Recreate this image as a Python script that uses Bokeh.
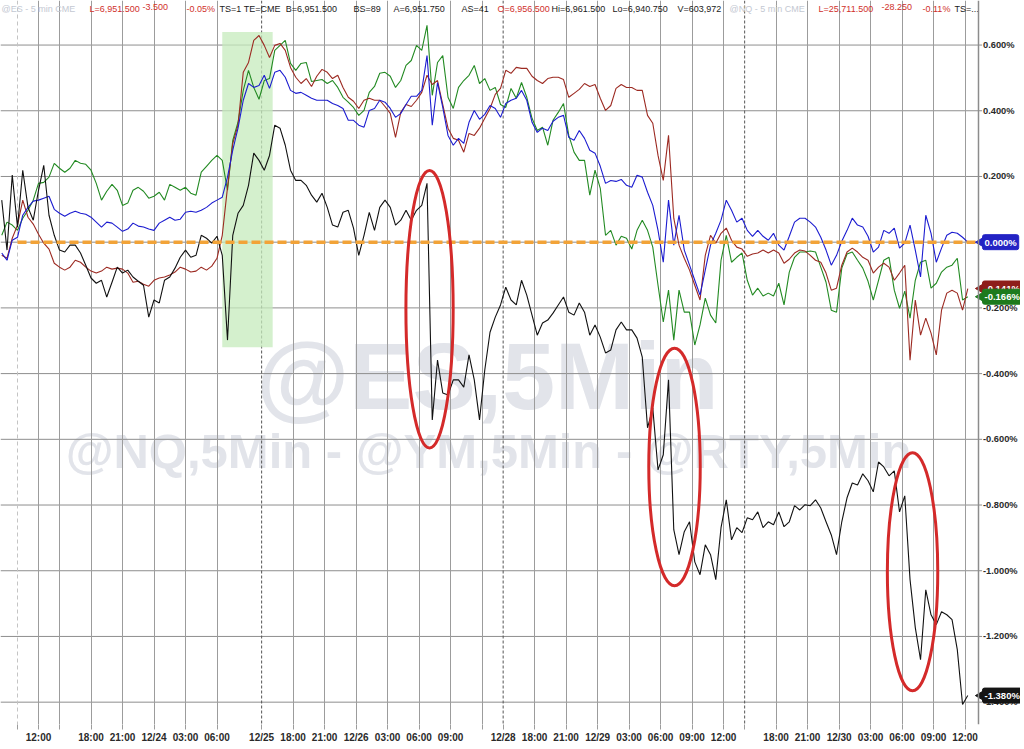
import numpy as np
from bokeh.plotting import figure
from bokeh.models import FixedTicker, Span, BoxAnnotation, Label, Range1d
from bokeh.embed import file_html
from bokeh.resources import INLINE
from bokeh.core.properties import value

# ---------------- data ----------------
# x: trading hours since 12/23 10:00 (session gaps removed), one reading every 30 minutes
hours = np.arange(-1.5, 90.75, 0.5)

# % change since the comparison start
es_blue = [
    -0.033, -0.055, 0.006, 0.015, 0.082, 0.106, 0.125, 0.128, 0.134, 0.140,
    0.100, 0.088, 0.079, 0.088, 0.094, 0.088, 0.085, 0.076, 0.061, 0.046,
    0.061, 0.058, 0.046, 0.033, 0.040, 0.058, 0.049, 0.046, 0.040, 0.036,
    0.058, 0.067, 0.076, 0.067, 0.070, 0.091, 0.094, 0.091, 0.097, 0.106,
    0.119, 0.128, 0.137, 0.198, 0.280, 0.347, 0.432, 0.483, 0.471, 0.477,
    0.508, 0.468, 0.517, 0.523, 0.502, 0.462, 0.453, 0.456, 0.447, 0.438,
    0.432, 0.432, 0.432, 0.422, 0.416, 0.407, 0.371, 0.371, 0.356, 0.350,
    0.401, 0.407, 0.432, 0.426, 0.407, 0.380, 0.392, 0.419, 0.444, 0.444,
    0.462, 0.568, 0.356, 0.486, 0.410, 0.325, 0.295, 0.316, 0.301, 0.365,
    0.401, 0.374, 0.389, 0.416, 0.407, 0.380, 0.422, 0.432, 0.438, 0.462,
    0.432, 0.365, 0.334, 0.347, 0.340, 0.368, 0.380, 0.386, 0.319, 0.310,
    0.340, 0.316, 0.280, 0.271, 0.231, 0.179, 0.188, 0.185, 0.191, 0.173,
    0.167, 0.204, 0.198, 0.152, 0.112, 0.036, -0.061, 0.128, -0.009, 0.082,
    -0.024, -0.070, -0.116, -0.161, -0.085, -0.009, 0.027, 0.067, 0.128, 0.097,
    0.061, 0.073, 0.036, 0.018, 0.036, 0.018, 0.006, 0.027, -0.009, -0.024,
    0.018, 0.061, 0.073, 0.073, 0.061, 0.046, 0.015, -0.024, -0.070, -0.040,
    0.003, 0.036, 0.073, 0.052, 0.046, 0.018, -0.030, -0.015, 0.036, 0.027,
    0.043, -0.018, -0.003, 0.052, -0.024, -0.106, 0.082, 0.027, -0.061, -0.018,
    0.021, 0.030, 0.027, 0.015, 0.000,
]
nq_red = [
    -0.040, -0.049, 0.012, 0.052, 0.128, 0.076, 0.055, 0.024, -0.003, -0.021,
    -0.064, -0.076, -0.085, -0.076, -0.055, -0.061, -0.076, -0.088, -0.094, -0.088,
    -0.076, -0.082, -0.079, -0.082, -0.094, -0.122, -0.119, -0.128, -0.134, -0.116,
    -0.109, -0.106, -0.100, -0.091, -0.076, -0.082, -0.091, -0.088, -0.076, -0.085,
    -0.073, -0.049, 0.021, 0.167, 0.301, 0.356, 0.517, 0.547, 0.614, 0.629,
    0.599, 0.562, 0.599, 0.605, 0.584, 0.532, 0.502, 0.483, 0.498, 0.474,
    0.505, 0.526, 0.517, 0.498, 0.508, 0.471, 0.441, 0.429, 0.407, 0.432,
    0.438, 0.432, 0.432, 0.413, 0.392, 0.319, 0.395, 0.419, 0.413, 0.432,
    0.456, 0.508, 0.480, 0.492, 0.419, 0.347, 0.316, 0.310, 0.274, 0.331,
    0.325, 0.347, 0.377, 0.407, 0.450, 0.468, 0.523, 0.514, 0.532, 0.529,
    0.529, 0.505, 0.492, 0.483, 0.498, 0.502, 0.502, 0.495, 0.441, 0.453,
    0.465, 0.483, 0.474, 0.480, 0.438, 0.401, 0.416, 0.468, 0.480, 0.471,
    0.471, 0.462, 0.462, 0.386, 0.362, 0.264, 0.188, 0.325, 0.073, -0.009,
    -0.049, -0.085, -0.131, -0.176, -0.040, 0.021, -0.003, 0.027, 0.043, 0.006,
    -0.015, -0.021, -0.043, -0.036, -0.033, -0.024, -0.033, -0.024, -0.033, -0.064,
    -0.052, -0.033, -0.024, -0.027, -0.040, -0.055, -0.061, -0.094, -0.146, -0.140,
    -0.070, -0.030, -0.018, -0.030, -0.046, -0.055, -0.094, -0.076, -0.064, -0.076,
    -0.116, -0.094, -0.070, -0.359, -0.176, -0.283, -0.231, -0.277, -0.343, -0.207,
    -0.155, -0.146, -0.155, -0.207, -0.141,
]
ym_green = [
    0.021, 0.061, 0.052, 0.036, 0.073, 0.097, 0.128, 0.179, 0.182, 0.198,
    0.240, 0.225, 0.213, 0.225, 0.249, 0.240, 0.237, 0.219, 0.179, 0.128,
    0.155, 0.176, 0.158, 0.112, 0.119, 0.158, 0.167, 0.155, 0.134, 0.140,
    0.152, 0.128, 0.176, 0.167, 0.158, 0.167, 0.149, 0.143, 0.213, 0.231,
    0.249, 0.264, 0.249, 0.158, 0.310, 0.365, 0.462, 0.523, 0.471, 0.435,
    0.492, 0.498, 0.584, 0.599, 0.614, 0.544, 0.523, 0.544, 0.547, 0.489,
    0.492, 0.495, 0.483, 0.492, 0.471, 0.441, 0.426, 0.410, 0.386, 0.401,
    0.456, 0.474, 0.514, 0.517, 0.505, 0.471, 0.492, 0.538, 0.553, 0.599,
    0.584, 0.660, 0.447, 0.547, 0.568, 0.441, 0.407, 0.471, 0.492, 0.508,
    0.538, 0.483, 0.498, 0.462, 0.471, 0.419, 0.410, 0.468, 0.438, 0.486,
    0.441, 0.377, 0.340, 0.350, 0.295, 0.371, 0.395, 0.422, 0.325, 0.274,
    0.249, 0.249, 0.143, 0.219, 0.164, 0.021, 0.036, -0.009, 0.018, 0.012,
    -0.021, 0.036, 0.067, 0.036, -0.015, -0.131, -0.243, -0.146, -0.298, -0.146,
    -0.213, -0.213, -0.313, -0.252, -0.170, -0.222, -0.246, -0.055, 0.021, -0.061,
    -0.046, -0.033, -0.116, -0.161, -0.140, -0.164, -0.155, -0.164, -0.125, -0.191,
    -0.091, -0.046, -0.030, -0.030, -0.027, -0.030, -0.076, -0.122, -0.207, -0.213,
    -0.079, -0.036, -0.030, -0.055, -0.079, -0.119, -0.176, -0.116, -0.055, -0.046,
    -0.146, -0.201, -0.149, -0.231, -0.116, -0.061, -0.055, -0.140, -0.125, -0.091,
    -0.076, -0.070, -0.049, -0.176, -0.166,
]
rty_black = [
    0.128, -0.024, 0.204, 0.046, 0.219, 0.106, 0.067, 0.158, 0.234, 0.082,
    0.021, -0.024, -0.030, -0.009, -0.009, -0.033, -0.070, -0.109, -0.125, -0.116,
    -0.167, -0.122, -0.076, -0.094, -0.085, -0.106, -0.119, -0.131, -0.228, -0.176,
    -0.185, -0.116, -0.106, -0.079, -0.046, -0.024, -0.046, -0.040, 0.021, 0.012,
    -0.003, 0.018, -0.040, -0.298, 0.021, 0.088, 0.112, 0.173, 0.271, 0.249,
    0.219, 0.264, 0.356, 0.347, 0.295, 0.219, 0.188, 0.188, 0.173, 0.143,
    0.122, 0.149, 0.106, 0.052, 0.046, 0.091, 0.097, 0.043, -0.040, 0.021,
    0.091, 0.036, 0.106, 0.128, 0.106, 0.052, 0.067, 0.097, 0.067, 0.097,
    0.112, 0.179, -0.541, -0.359, -0.459, -0.465, -0.419, -0.419, -0.441, -0.343,
    -0.419, -0.541, -0.389, -0.274, -0.228, -0.191, -0.137, -0.176, -0.191, -0.116,
    -0.161, -0.222, -0.283, -0.246, -0.237, -0.216, -0.191, -0.167, -0.213, -0.222,
    -0.185, -0.213, -0.283, -0.252, -0.289, -0.337, -0.328, -0.267, -0.243, -0.267,
    -0.267, -0.292, -0.350, -0.565, -0.505, -0.693, -0.647, -0.419, -0.875, -0.951,
    -0.881, -0.851, -0.973, -1.012, -0.921, -0.951, -1.027, -0.869, -0.784, -0.906,
    -0.869, -0.884, -0.839, -0.845, -0.821, -0.869, -0.851, -0.860, -0.821, -0.866,
    -0.851, -0.802, -0.815, -0.799, -0.802, -0.784, -0.809, -0.851, -0.891, -0.951,
    -0.851, -0.778, -0.733, -0.739, -0.705, -0.726, -0.760, -0.669, -0.684, -0.711,
    -0.696, -0.821, -0.772, -1.027, -1.173, -1.271, -1.058, -1.134, -1.164, -1.125,
    -1.134, -1.149, -1.240, -1.407, -1.380,
]
for s in (es_blue, nq_red, ym_green, rty_black):
    assert len(s) == len(hours), len(s)

# x-axis ticks (trading hours) and their labels
x_tick_hours = [0, 2, 4, 7, 10, 13, 16, 19, 23.25, 26.25, 29.25, 32.25, 35.25, 38.25,
                41.25, 44.25, 46.25, 49.25, 52.25, 55.25, 58.25, 61.25, 64.25, 67.25,
                69.25, 72.25, 75.25, 78.25, 81.25, 84.25, 87.25, 90.25]
x_tick_labels = ["", "12:00", "", "18:00", "21:00", "12/24", "03:00", "06:00", "12/25",
                 "18:00", "21:00", "12/26", "03:00", "06:00", "09:00", "", "12/28",
                 "18:00", "21:00", "12/29", "03:00", "06:00", "09:00", "12:00", "",
                 "18:00", "21:00", "12/30", "03:00", "06:00", "09:00", "12:00"]
comparison_start = [0]
session_breaks = [23.25, 46.25, 69.25]
y_ticks = [-1.4, -1.2, -1.0, -0.8, -0.6, -0.4, -0.2, 0.0, 0.2, 0.4, 0.6]

# last-value badges
badge_values = [0.0, -0.141, -0.166, -1.380]
badge_texts = ["0.000%", "-0.141%", "-0.166%", "-1.380%"]
badge_colors = ["#2323c4", "#8e1d1a", "#1d7a1d", "#151515"]

# highlighted session (hours, %)
band_left, band_right, band_bottom, band_top = 19.5, 24.3, -0.32, 0.64

# red ellipses marking the three drops (center hour, center %, width h, height %)
ell_x = [39.24, 62.57, 85.24]
ell_y = [-0.204, -0.684, -1.003]
ell_w = [4.5, 4.9, 4.8]
ell_h = [0.845, 0.723, 0.726]

header_texts = ["@ES - 5 min  CME", "L=6,951.500", "-3.500", "-0.05%", "TS=1", "TE=CME",
                "B=6,951.500", "BS=89", "A=6,951.750", "AS=41", "O=6,956.500",
                "Hi=6,961.500", "Lo=6,940.750", "V=603,972", "@NQ - 5 min  CME",
                "L=25,711.500", "-28.250", "-0.11%", "TS=..."]
header_colors = ["#c3c8d2", "#d0302b", "#d0302b", "#d0302b", "#1a1a1a", "#1a1a1a",
                 "#1a1a1a", "#1a1a1a", "#1a1a1a", "#1a1a1a", "#d0302b",
                 "#1a1a1a", "#1a1a1a", "#1a1a1a", "#c3c8d2",
                 "#d0302b", "#d0302b", "#d0302b", "#1a1a1a"]
header_hours = [-1.52, 6.86, 11.9, 16.1, 19.24, 21.55, 25.55, 32.0, 35.81, 42.29, 45.71,
                50.86, 56.67, 62.86, 67.81, 76.29, 82.29, 86.19, 89.24]

FONT = "Liberation Sans"
X0, X1 = -1.619, 95.52          # plot frame in trading hours
Y0, Y1 = -1.468, 0.7356         # plot frame in %
AXIS_AT = 91.52                 # position of the price scale line
TICK_END = 91.86
LABEL_AT = 91.95

p = figure(width=1020, height=745, output_backend="svg", toolbar_location=None,
           x_range=Range1d(X0, X1), y_range=Range1d(Y0, Y1),
           y_axis_location=None, min_border_left=0, min_border_top=0,
           min_border_right=0, min_border_bottom=20,
           background_fill_color="white", border_fill_color="white")
p.outline_line_color = None

# watermark
p.text(x=[44.76], y=[-0.407], text=["@ES,5Min"], text_font=value(FONT),
       text_font_size="95px", text_font_style="bold", text_color="#e2e4ea",
       text_align="center", text_baseline="alphabetic", level="image")
p.text(x=[44.86], y=[-0.635], text=["@NQ,5Min - @YM,5Min - @RTY,5Min"], text_font=value(FONT),
       text_font_size="49px", text_font_style="bold", text_color="#e2e4ea",
       text_align="center", text_baseline="alphabetic", level="image")

# grids
solid_grid = [t for t in x_tick_hours if t not in session_breaks and t not in comparison_start]
p.xgrid.ticker = FixedTicker(ticks=solid_grid)
p.xgrid.grid_line_color = "#9c9c9c"
p.xgrid.grid_line_width = 1
p.ygrid.grid_line_color = None
p.segment(x0=[X0] * len(y_ticks), x1=[TICK_END] * len(y_ticks), y0=y_ticks, y1=y_ticks,
          line_color="#8e8e8e", line_width=1, level="underlay")
for t in session_breaks:
    p.add_layout(Span(location=t, dimension="height", line_color="#555555",
                      line_dash="3 2", line_width=1, level="underlay"))
for t in comparison_start:
    p.add_layout(Span(location=t, dimension="height", line_color="#c4c4c4",
                      line_dash="4 3", line_width=1, level="underlay"))

p.add_layout(BoxAnnotation(left=band_left, right=band_right, bottom=band_bottom, top=band_top,
                           fill_color="#c6ebbc", fill_alpha=0.75, line_color=None,
                           level="underlay"))

# series
p.line(hours, ym_green, line_color="#228a22", line_width=1.1)
p.line(hours, nq_red, line_color="#9c2a22", line_width=1.1)
p.line(hours, es_blue, line_color="#1c1cd0", line_width=1.1)
p.line(hours, rty_black, line_color="#111111", line_width=1.1)

# zero reference line from the comparison start to the price scale
p.segment(x0=comparison_start, x1=[AXIS_AT], y0=[0], y1=[0], line_color="#f2a338",
          line_width=3.5, line_dash="9 4")

p.ellipse(x=ell_x, y=ell_y, width=ell_w, height=ell_h, fill_color=None,
          line_color="#d42a2a", line_width=3)

# price scale on the right
p.add_layout(Span(location=AXIS_AT, dimension="height", line_color="#8c8c8c", line_width=1.5))
p.text(x=[LABEL_AT] * len(y_ticks), y=y_ticks, text=[f"{v:.3f}%" for v in y_ticks],
       text_font=value(FONT), text_font_size="9.3px", text_font_style="bold",
       text_color="#2a2a2a", text_align="left", text_baseline="middle")

# time axis
p.xaxis.ticker = FixedTicker(ticks=x_tick_hours)
p.xaxis.major_label_overrides = {t: lab for t, lab in zip(x_tick_hours, x_tick_labels)}
p.xaxis.axis_line_color = None
p.xaxis.major_tick_line_color = "#9c9c9c"
p.xaxis.major_tick_out = 5
p.xaxis.major_tick_in = 0
p.xaxis.minor_tick_line_color = None
p.xaxis.major_label_standoff = 2
p.xaxis.major_label_text_font = FONT
p.xaxis.major_label_text_font_size = "10px"
p.xaxis.major_label_text_font_style = "bold"
p.xaxis.major_label_text_color = "#2a2a2a"

# last-value badges
p.scatter(x=[AXIS_AT + 0.2] * len(badge_values), y=badge_values, marker="triangle",
          angle=np.pi / 2, size=9, fill_color=badge_colors, line_color=badge_colors)
for v, t, c in zip(badge_values, badge_texts, badge_colors):
    p.add_layout(Label(x=LABEL_AT - 0.05, y=v, text=t, text_color="white",
                       text_font=FONT, text_font_size="9.5px", text_font_style="bold",
                       text_baseline="middle", text_align="left",
                       background_fill_color=c, border_line_color=c,
                       padding=2, border_radius=2))

# header line
p.text(x=header_hours, y=[Y1] * len(header_hours), text=header_texts,
       text_color=header_colors, text_font=value(FONT),
       text_font_size="9px", text_baseline="top", text_align="left", y_offset=3)

open("out.html", "w").write(file_html(p, INLINE))
